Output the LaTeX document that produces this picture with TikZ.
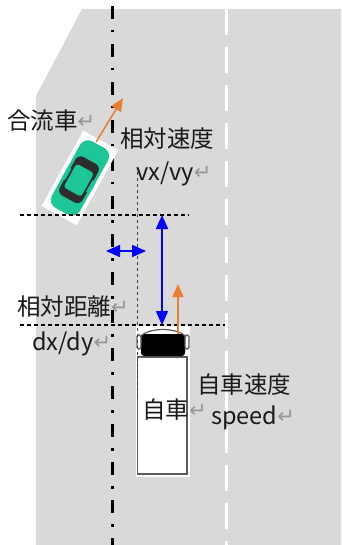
\documentclass[tikz,border=0pt]{standalone}
\usepackage{fontspec}
\newfontfamily\jpfont{Noto Sans CJK JP}
\newfontfamily\markfont{DejaVu Sans}
\usetikzlibrary{arrows.meta}
\definecolor{roadgray}{RGB}{217,217,217}
\definecolor{carteal}{RGB}{28,198,150}
\definecolor{cardark}{RGB}{45,45,45}
\definecolor{vecorange}{RGB}{237,125,49}
\definecolor{markgray}{RGB}{150,150,150}
\definecolor{outlinegray}{RGB}{90,90,90}
\newcommand{\retmark}{{\markfont\fontsize{21}{21}\selectfont\color{markgray}\raisebox{1pt}{↵}}}
\tikzset{
  label/.style={font=\jpfont\fontsize{23.5}{25}\selectfont, inner sep=0pt, text=black!90, align=center},
  guide/.style={black, line width=1.1pt, dash pattern=on 4pt off 3pt},
  thinguide/.style={black!75, line width=1pt, dash pattern=on 3pt off 3pt},
  centreline/.style={black, line width=3pt, dash pattern=on 13pt off 11pt on 2.5pt off 11.5pt},
  laneline/.style={white, line width=3pt, dash pattern=on 26pt off 12pt},
  motion/.style={vecorange, line width=1.5pt, -{Triangle[width=11pt,length=13pt]}},
  gap/.style={blue, line width=1.5pt, {Triangle[width=12pt,length=14pt]}-{Triangle[width=12pt,length=14pt]}},
}
\begin{document}
\begin{tikzpicture}[x=1pt,y=-1pt]
  \useasboundingbox (0,0) rectangle (341,545);
  % road surface
  \fill[roadgray] (82,9) -- (341,9) -- (341,545) -- (36,545) -- (36,96) -- cycle;
  % lane markings
  \draw[centreline] (112,6) -- (112,545);
  \draw[laneline] (226,9) -- (226,545);

  % merging car
  \begin{scope}[shift={(80,178)}, rotate=-29]
    \fill[white] (-20,-43) rectangle (20,43);
    \fill[carteal, rounded corners=9pt] (-16,-38) rectangle (16,38);
    \fill[cardark, rounded corners=6pt] (-13,-20) rectangle (13,24);
    \fill[carteal, rounded corners=3pt] (-10,-11) rectangle (10,16);
    \fill[carteal] (-16,-4) rectangle (-12,9);
    \fill[carteal] (12,-4) rectangle (16,9);
  \end{scope}
  \coordinate (mergeFrom) at (96,142);
  \coordinate (mergeTo) at (123,98);
  \draw[motion] (mergeFrom) -- (mergeTo);

  % own vehicle (truck)
  \fill[white] (136,326) rectangle (190,477);
  \draw[outlinegray, line width=1.2pt] (137.5,357) rectangle (187,474);
  \fill[black, rounded corners=3pt] (141,334) rectangle (185,356);
  \draw[outlinegray, line width=1.2pt] (140,337) .. controls (148,327) and (178,327) .. (186,337);
  \draw[outlinegray, line width=1.2pt, rounded corners=1.5pt] (137,335) rectangle (141,349);
  \draw[outlinegray, line width=1.2pt, rounded corners=1.5pt] (185,335) rectangle (189,349);

  % reference lines
  \coordinate (mergeRefL) at (20,215);
  \coordinate (mergeRefR) at (189,215);
  \coordinate (egoRefL) at (20,325);
  \coordinate (egoRefR) at (225,325);
  \coordinate (egoSideTop) at (137,172);
  \coordinate (egoSideBot) at (137,398);
  \draw[guide] (mergeRefL) -- (mergeRefR);
  \draw[guide] (egoRefL) -- (egoRefR);
  \draw[thinguide] (egoSideTop) -- (egoSideBot);

  % relative distance arrows
  \coordinate (dxL) at (106,251);
  \coordinate (dxR) at (146,251);
  \coordinate (dyT) at (162,215);
  \coordinate (dyB) at (162,325);
  \draw[gap] (dxL) -- (dxR);
  \draw[gap] (dyT) -- (dyB);

  % own speed arrow
  \coordinate (egoFrom) at (178,334);
  \coordinate (egoTo) at (178,284);
  \draw[motion] (egoFrom) -- (egoTo);

  % labels
  \node[label, anchor=west] (mergeLbl) at (7,121) {合流車\retmark};
  \node[label, anchor=west] (relSpeedLbl) at (120,139) {相対速度};
  \node[label, anchor=west] (vxvyLbl) at (136,174) {vx/vy\retmark};
  \node[label, anchor=west] (relDistLbl) at (17,307) {相対距離\retmark};
  \node[label, anchor=west] (dxdyLbl) at (32,344) {dx/dy\retmark};
  \node[label, anchor=west] (egoLbl) at (142,410) {自車\retmark};
  \node[label, anchor=west] (egoSpeedLbl) at (197,385) {自車速度};
  \node[label, anchor=west] (speedLbl) at (211,418) {speed\retmark};
\end{tikzpicture}
\end{document}
